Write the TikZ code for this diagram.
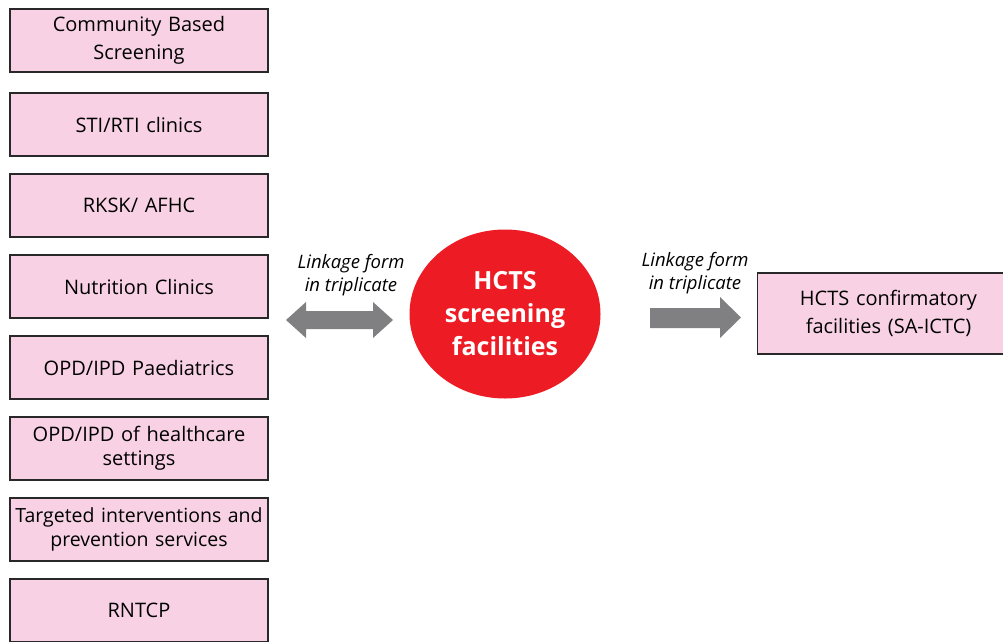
\documentclass[tikz,border=0pt]{standalone}
\usepackage{fontspec}
\setmainfont{Open Sans}
\usetikzlibrary{shapes.geometric}
\definecolor{pinkc}{RGB}{248,210,228}
\definecolor{redc}{RGB}{237,28,36}
\definecolor{arrowc}{RGB}{128,128,130}
\definecolor{edgec}{RGB}{40,40,40}
\tikzset{
  box/.style={draw=edgec, line width=1.5pt, fill=pinkc, minimum width=258pt, minimum height=63pt,
    text width=258pt, align=center, inner sep=0pt, font=\fontsize{20}{28}\selectfont},
  lbl/.style={align=center, font=\itshape\fontsize{18.5}{22.5}\selectfont, inner sep=0pt},
  fatarrow/.style={fill=arrowc, draw=none}
}
\begin{document}
\begin{tikzpicture}[x=1pt,y=-1pt]
\useasboundingbox (0,0) rectangle (1003,641);
\node[box] (b1) at (139,40.5) {Community Based\\Screening};
\node[box] (b2) at (139,124.5) {STI/RTI clinics};
\node[box] (b3) at (139,205.5) {RKSK/ AFHC};
\node[box] (b4) at (139,286.5) {Nutrition Clinics};
\node[box] (b5) at (139,367.5) {OPD/IPD Paediatrics};
\node[box, font=\fontsize{20}{24}\selectfont] (b6) at (139,448.5) {OPD/IPD of healthcare\\settings};
\node[box, font=\fontsize{19.5}{24}\selectfont] (b7) at (139,529.5) {Targeted interventions and\\prevention services};
\node[box] (b8) at (139,610.5) {RNTCP};
\node[ellipse, fill=redc, minimum width=191pt, minimum height=169pt, inner sep=0pt,
      text=white, align=center, font=\bfseries\fontsize{25}{33}\selectfont] (hc) at (505,314)
      {HCTS\\screening\\facilities};
\node[box, minimum height=81pt, minimum width=262pt, text width=250pt] (cf) at (888.5,313.5)
      {HCTS confirmatory\\facilities (SA-ICTC)};
\node[lbl] (l1) at (351,275) {Linkage form\\in triplicate};
\node[lbl] (l2) at (695,273) {Linkage form\\in triplicate};
% double arrow
\fill[fatarrow] (286,320) -- (306,302) -- (306,311) -- (373,311) -- (373,302) -- (393,320)
  -- (373,338) -- (373,329) -- (306,329) -- (306,338) -- cycle;
% single arrow
\fill[fatarrow] (650,308) -- (720,308) -- (720,297) -- (741,317.5) -- (720,338) -- (720,328) -- (650,328) -- cycle;
\end{tikzpicture}
\end{document}
